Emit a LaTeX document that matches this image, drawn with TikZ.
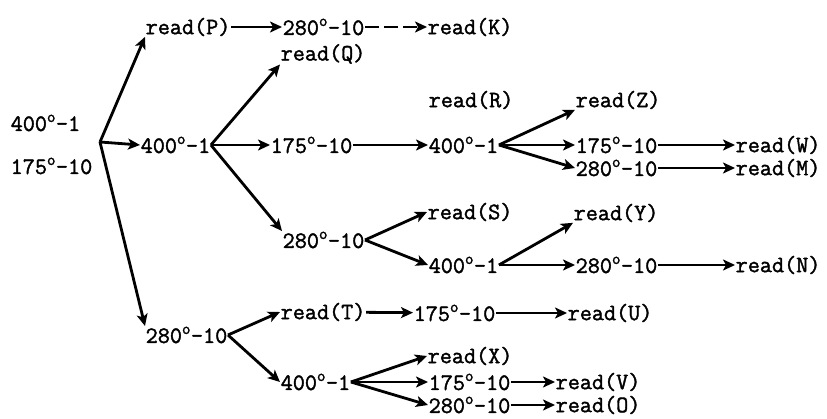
\documentclass[tikz,border=0pt]{standalone}
\usepackage{fontspec}
\newfontfamily\typew[FakeBold=1.6]{Latin Modern Mono}
\usetikzlibrary{arrows.meta}

\newcommand{\tset}[2]{#1\textsuperscript{o}-#2}

\begin{document}
\begin{tikzpicture}[x=1pt,y=-1pt,
    lbl/.style={anchor=west,inner sep=0.5pt,font=\fontsize{23.5}{26}\selectfont\typew},
    arr/.style={-{Stealth[length=12pt,width=11pt,inset=3pt]},line width=2.8pt}]
    \useasboundingbox (0,0) rectangle (827,419);

    % starting states
    \node[lbl] (r400) at (10,123) {\tset{400}{1}};
    \node[lbl] (r175) at (10,166) {\tset{175}{10}};
    \coordinate (f0) at (100,142);

    \node[lbl] (readP) at (145,27)  {read(P)};
    \node[lbl] (t400a) at (140,145) {\tset{400}{1}};
    \node[lbl] (t280a) at (145,335) {\tset{280}{10}};

    \node[lbl] (t280b) at (282,27)  {\tset{280}{10}};
    \node[lbl] (readK) at (427,27)  {read(K)};
    \node[lbl] (readQ) at (280,54)  {read(Q)};
    \node[lbl] (t175a) at (270,145) {\tset{175}{10}};
    \node[lbl] (t280c) at (282,240) {\tset{280}{10}};

    \node[lbl] (readR) at (428,100) {read(R)};
    \node[lbl] (t400b) at (428,145) {\tset{400}{1}};
    \node[lbl] (readZ) at (575,100) {read(Z)};
    \node[lbl] (t175b) at (575,145) {\tset{175}{10}};
    \node[lbl] (t280d) at (575,168) {\tset{280}{10}};
    \node[lbl] (readW) at (735,145) {read(W)};
    \node[lbl] (readM) at (735,168) {read(M)};

    \node[lbl] (readS) at (427,212) {read(S)};
    \node[lbl] (t400c) at (428,265) {\tset{400}{1}};
    \node[lbl] (readY) at (573,213) {read(Y)};
    \node[lbl] (t280e) at (575,265) {\tset{280}{10}};
    \node[lbl] (readN) at (735,265) {read(N)};

    \node[lbl] (readT) at (280,312) {read(T)};
    \node[lbl] (t175c) at (413,313) {\tset{175}{10}};
    \node[lbl] (readU) at (567,313) {read(U)};
    \node[lbl] (t400d) at (280,382) {\tset{400}{1}};
    \node[lbl] (readX) at (427,356) {read(X)};
    \node[lbl] (t175d) at (428,382) {\tset{175}{10}};
    \node[lbl] (t280g) at (428,405) {\tset{280}{10}};
    \node[lbl] (readV) at (555,382) {read(V)};
    \node[lbl] (readO) at (555,405) {read(O)};

    % first split
    \draw[arr] (f0) -- (readP.south west);
    \draw[arr] (f0) -- (t400a.west);
    \draw[arr] (f0) -- (t280a.north west);

    \draw[arr] (readP) -- (t280b);
    \draw[arr,dash pattern=on 14pt off 5pt] (t280b) -- (readK);

    \draw[arr] (t400a.east) -- (readQ.south west);
    \draw[arr] (t400a.east) -- (t175a.west);
    \draw[arr] (t400a.east) -- (t280c.north west);

    \draw[arr] (t175a) -- (t400b);
    \draw[arr] (t400b.east) -- (readZ.south west);
    \draw[arr] (t400b.east) -- (t175b.west);
    \draw[arr] (t400b.east) -- (t280d.west);
    \draw[arr] (t175b) -- (readW);
    \draw[arr] (t280d) -- (readM);

    \draw[arr] (t280c.east) -- (readS.west);
    \draw[arr] (t280c.east) -- (t400c.west);
    \draw[arr] (t400c.east) -- (readY.south west);
    \draw[arr] (t400c.east) -- (t280e.west);
    \draw[arr] (t280e) -- (readN);

    \draw[arr] (t280a.east) -- (readT.west);
    \draw[arr] (t280a.east) -- (t400d.west);
    \draw[arr] (readT) -- (t175c);
    \draw[arr] (t175c) -- (readU);

    \draw[arr] (t400d.east) -- (readX.west);
    \draw[arr] (t400d.east) -- (t175d.west);
    \draw[arr] (t400d.east) -- (t280g.west);
    \draw[arr] (t175d) -- (readV);
    \draw[arr] (t280g) -- (readO);
\end{tikzpicture}
\end{document}
